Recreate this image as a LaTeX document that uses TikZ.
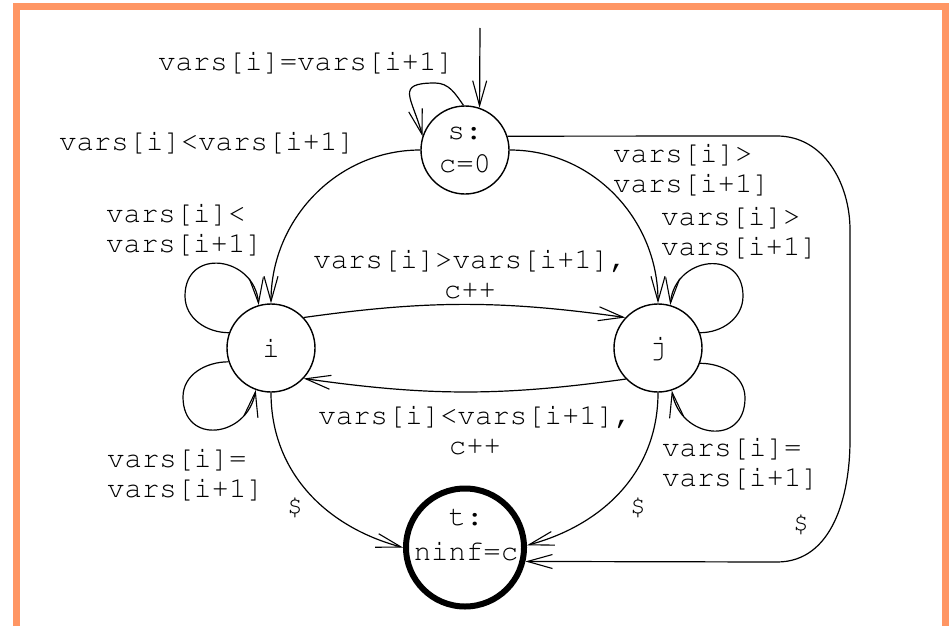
\documentclass[tikz,border=0pt]{standalone}
\usepackage[T1]{fontenc}
\usepackage{courier}
\usetikzlibrary{arrows.meta}
\definecolor{framecol}{RGB}{255,150,100}
\begin{document}
\begin{tikzpicture}[x=1pt,y=1pt,
  every node/.style={font=\ttfamily\fontsize{29}{30}\selectfont},
  state/.style={draw, circle, line width=1.4pt, minimum size=88pt, inner sep=0pt, align=center},
  final/.style={draw, circle, line width=6pt, minimum size=118pt, inner sep=0pt},
  tr/.style={line width=1.2pt, -{Straight Barb[length=25pt,width=14pt,line width=1.1pt]}},
  lbl/.style={inner sep=0pt, align=left},
  clbl/.style={inner sep=0pt, align=center},
  dollar/.style={inner sep=0pt, font=\ttfamily\fontsize{27}{28}\selectfont}
]
\useasboundingbox (0,0) rectangle (949,-626);
\draw[framecol, line width=7.3pt, line join=miter] (16.3,-626) -- (16.3,-6.5) -- (945.5,-6.5) -- (945.5,-626);

% states
\node[state, font=\ttfamily\fontsize{29}{33}\selectfont] (s) at (465,-150) {s:\\c=0};
\node[state] (i) at (271,-348) {i};
\node[state] (j) at (658,-348) {j};
\node[final] (t) at (465,-547.5) {};
\node[clbl, font=\ttfamily\fontsize{29}{35}\selectfont] (tt) at (466,-535) {t:\\ninf=c};

% helper coordinates
\coordinate (init) at (480,-28);
\coordinate (vs) at (435,-83);
\coordinate (vi1) at (185,-296);
\coordinate (vi2) at (183,-397);
\coordinate (vj1) at (743,-296);
\coordinate (vj2) at (745,-398);
\coordinate (sc1) at (777,-136);
\coordinate (sc2) at (850,-230);
\coordinate (sc3) at (850,-440);
\coordinate (sc4) at (777,-562);

% transitions
\draw[tr] (init) -- (s.71);
\draw[tr] (s.92) to[out=125,in=0] (vs) to[out=180,in=105,looseness=1.9] (s.162);
\draw[tr] (s.180) to[out=180,in=90] (i.90);
\draw[tr] (s.0) to[out=0,in=90] (j.90);
\draw[tr] (i.160) to[out=180,in=-90] (vi1) to[out=90,in=95,looseness=1.7] (i.106);
\draw[tr] (i.198) to[out=180,in=90] (vi2) to[out=-90,in=-100,looseness=1.7] (i.250);
\draw[tr] (j.20) to[out=0,in=-90] (vj1) to[out=90,in=85,looseness=1.7] (j.74);
\draw[tr] (j.-20) to[out=0,in=90] (vj2) to[out=-90,in=-80,looseness=1.7] (j.-72);
\draw[tr] (i.43) to[bend left=8] (j.137);
\draw[tr] (j.224) to[bend left=8] (i.-43);
\draw[tr] (i.-90) to[out=-90,in=165] (t.180);
\draw[tr] (j.-90) to[out=-90,in=15] (t.2);
\draw[tr] (s.18) -- (sc1) to[out=0,in=90] (sc2) -- (sc3) to[out=-90,in=0] (sc4) -- (t.-13);

% labels
\node[lbl] (l1) at (306,-63) {vars[i]=vars[i+1]};
\node[lbl] (l2) at (207,-143) {vars[i]<vars[i+1]};
\node[lbl, anchor=west] (l3) at (106,-230) {vars[i]<\\vars[i+1]};
\node[clbl] (l4) at (470,-274) {vars[i]>vars[i+1],\\c++};
\node[lbl, anchor=west] (l5) at (613,-169.5) {vars[i]>\\vars[i+1]};
\node[lbl, anchor=west] (l6) at (661,-233) {vars[i]>\\vars[i+1]};
\node[clbl] (l7) at (475,-430) {vars[i]<vars[i+1],\\c++};
\node[lbl, anchor=west] (l8) at (107,-475) {vars[i]=\\vars[i+1]};
\node[lbl, anchor=west] (l9) at (662,-463.5) {vars[i]=\\vars[i+1]};
\node[dollar] (d1) at (295,-508) {\$};
\node[dollar] (d2) at (638,-508) {\$};
\node[dollar] (d3) at (801,-525) {\$};
\end{tikzpicture}
\end{document}
